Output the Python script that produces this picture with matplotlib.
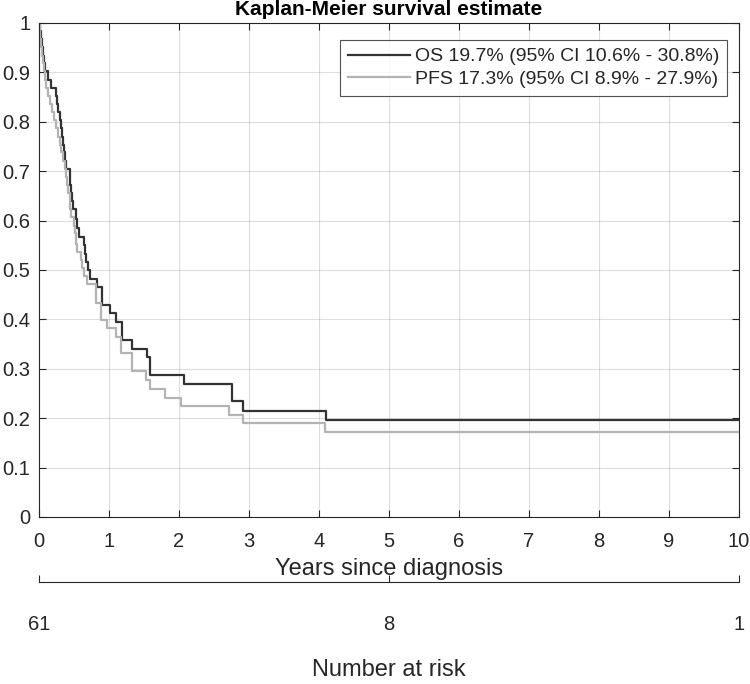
import numpy as np
import matplotlib.pyplot as plt
from matplotlib.ticker import FuncFormatter

# Kaplan-Meier step points (time in years, survival after the drop)
os_time = [0.0, 0.015, 0.03, 0.045, 0.06, 0.075, 0.09, 0.13, 0.17, 0.25, 0.265, 0.28,
           0.30, 0.32, 0.335, 0.35, 0.365, 0.375, 0.39, 0.44, 0.45, 0.46, 0.475, 0.485,
           0.53, 0.55, 0.575, 0.65, 0.665, 0.68, 0.70, 0.73, 0.83, 0.91, 1.02, 1.10,
           1.19, 1.33, 1.54, 1.59, 2.07, 2.76, 2.92, 4.10, 10.0]
os_surv = [1.0, 0.984, 0.967, 0.951, 0.934, 0.918, 0.902, 0.885, 0.869, 0.852, 0.836, 0.820,
           0.803, 0.787, 0.770, 0.754, 0.738, 0.721, 0.705, 0.689, 0.672, 0.656, 0.639, 0.623,
           0.603, 0.585, 0.567, 0.550, 0.533, 0.516, 0.500, 0.482, 0.465, 0.429, 0.412, 0.394,
           0.358, 0.340, 0.323, 0.288, 0.269, 0.235, 0.215, 0.197, 0.197]

pfs_time = [0.0, 0.012, 0.025, 0.037, 0.05, 0.062, 0.075, 0.09, 0.11, 0.13, 0.16, 0.19,
            0.22, 0.25, 0.28, 0.30, 0.32, 0.35, 0.37, 0.39, 0.41, 0.42, 0.44, 0.45, 0.46,
            0.51, 0.52, 0.53, 0.545, 0.61, 0.62, 0.65, 0.69, 0.82, 0.89, 0.98, 1.11, 1.17,
            1.33, 1.53, 1.59, 1.81, 2.03, 2.72, 2.92, 4.09, 10.0]
pfs_surv = [1.0, 0.984, 0.967, 0.951, 0.934, 0.918, 0.902, 0.885, 0.869, 0.852, 0.836, 0.820,
            0.803, 0.787, 0.770, 0.754, 0.738, 0.721, 0.705, 0.689, 0.672, 0.656, 0.639, 0.623, 0.607,
            0.590, 0.574, 0.553, 0.537, 0.520, 0.504, 0.488, 0.471, 0.433, 0.399, 0.382, 0.364, 0.331,
            0.296, 0.277, 0.259, 0.241, 0.225, 0.206, 0.190, 0.173, 0.173]

os_label = 'OS 19.7% (95% CI 10.6% - 30.8%)'
pfs_label = 'PFS 17.3% (95% CI 8.9% - 27.9%)'

risk_years = [0, 5, 10]
risk_counts = ['61', '8', '1']

plt.rcParams['font.family'] = ['Liberation Sans', 'DejaVu Sans']
axis_col = '#262626'

fig = plt.figure(figsize=(7.5, 6.84), dpi=100)
ax = fig.add_axes([0.0516, 0.2442, 0.9337, 0.7222])

ax.step(os_time, os_surv, where='post', color='#333333', lw=1.6, label=os_label)
ax.step(pfs_time, pfs_surv, where='post', color='#b3b3b3', lw=1.6, label=pfs_label)

ax.set_xlim(0, 10)
ax.set_ylim(0, 1)
ax.set_xticks(np.arange(0, 11, 1))
ax.set_yticks(np.arange(0, 1.01, 0.1))
ax.yaxis.set_major_formatter(FuncFormatter(lambda v, p: f'{v:.1f}'.rstrip('0').rstrip('.') if v else '0'))
ax.grid(True, color='#262626', alpha=0.15, lw=0.8)
ax.tick_params(direction='in', top=True, right=True, length=5, width=0.8,
               colors=axis_col, labelsize=14.5, labelcolor=axis_col)
ax.tick_params(axis='x', pad=11)
ax.tick_params(axis='y', pad=6)
for s in ax.spines.values():
    s.set_color(axis_col)
    s.set_linewidth(0.8)
ax.set_xlabel('Years since diagnosis', fontsize=17, color=axis_col, labelpad=5)
ax.set_title('Kaplan-Meier survival estimate', fontsize=15, fontweight='bold',
             color='black', pad=6)

leg = ax.legend(loc='upper right', bbox_to_anchor=(727 / 750, 1 - 40 / 684),
                bbox_transform=fig.transFigure, borderaxespad=0,
                fontsize=14, frameon=True, fancybox=False, edgecolor=axis_col,
                handlelength=3.2, handletextpad=0.25, borderpad=0.4,
                labelspacing=0.25)
leg.get_frame().set_linewidth(0.8)
for t in leg.get_texts():
    t.set_color(axis_col)

# number-at-risk axis
ax2 = fig.add_axes([0.0516, 0.149, 0.9337, 0.0001])
ax2.set_xlim(0, 10)
ax2.set_ylim(0, 1)
ax2.set_yticks([])
for side in ['top', 'left', 'right']:
    ax2.spines[side].set_visible(False)
ax2.spines['bottom'].set_color(axis_col)
ax2.spines['bottom'].set_linewidth(0.8)
ax2.set_xticks(risk_years)
ax2.set_xticklabels(risk_counts)
ax2.tick_params(axis='x', direction='in', length=5, width=0.8, colors=axis_col,
                labelsize=14.5, labelcolor=axis_col, pad=24)
ax2.set_xlabel('Number at risk', fontsize=17, color=axis_col, labelpad=18)
ax2.patch.set_visible(False)

fig.savefig('out.png', dpi=100)
